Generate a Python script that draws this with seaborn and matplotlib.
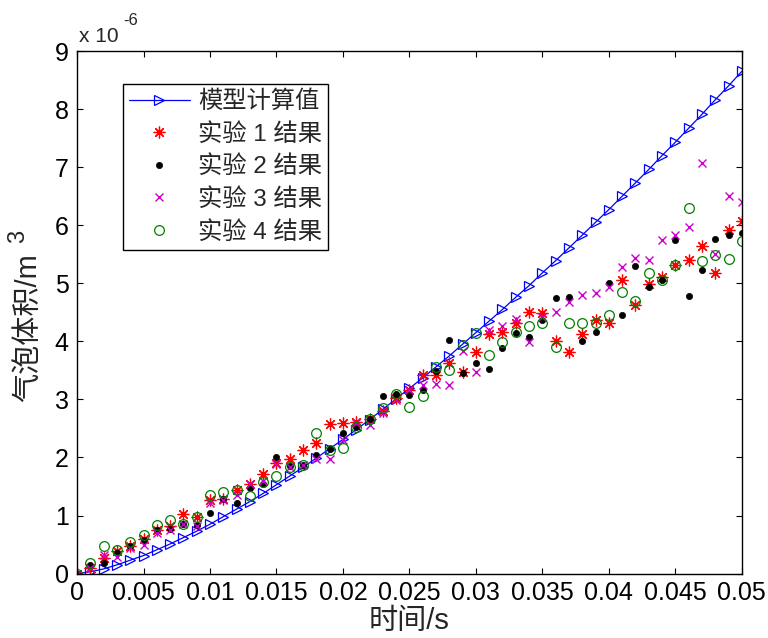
import numpy as np
import pandas as pd
import matplotlib
matplotlib.use('Agg')
import matplotlib.pyplot as plt
import seaborn as sns

# time in ms, volumes in units of 1e-6 m^3
t_ms = list(range(51))

model = [0.00, 0.03, 0.08, 0.15, 0.23, 0.31, 0.41, 0.51, 0.62, 0.73,
         0.85, 0.98, 1.11, 1.24, 1.38, 1.53, 1.68, 1.83, 1.99, 2.15,
         2.31, 2.48, 2.65, 2.83, 3.01, 3.19, 3.37, 3.56, 3.75, 3.95,
         4.15, 4.35, 4.55, 4.76, 4.96, 5.18, 5.39, 5.61, 5.83, 6.05,
         6.27, 6.50, 6.73, 6.96, 7.20, 7.43, 7.67, 7.91, 8.16, 8.40, 8.65]

exp1 = [0.00, 0.10, 0.27, 0.39, 0.47, 0.60, 0.75, 0.82, 1.02, 0.98,
        1.26, 1.29, 1.44, 1.54, 1.71, 1.90, 1.98, 2.13, 2.25, 2.58,
        2.60, 2.61, 2.66, 2.80, 3.03, 3.16, 3.42, 3.42, 3.62, 3.47,
        3.82, 4.12, 4.16, 4.32, 4.51, 4.49, 4.01, 3.82, 4.12, 4.37,
        4.32, 5.05, 4.62, 4.98, 5.11, 5.31, 5.40, 5.65, 5.18, 5.91, 6.08]

exp2 = [0.00, 0.15, 0.19, 0.35, 0.47, 0.58, 0.75, 0.77, 0.86, 0.83,
        1.05, 1.28, 1.21, 1.48, 1.54, 2.01, 1.86, 1.87, 2.04, 2.15,
        2.42, 2.52, 2.67, 3.05, 3.10, 3.07, 3.17, 3.49, 4.03, 3.46,
        3.63, 3.53, 3.88, 4.14, 4.07, 4.36, 4.74, 4.76, 4.01, 4.16,
        5.01, 4.45, 5.29, 4.94, 5.06, 5.74, 4.78, 5.22, 5.77, 5.83, 5.86]

exp3 = [0.00, 0.10, 0.32, 0.28, 0.44, 0.49, 0.70, 0.75, 0.86, 0.82,
        1.22, 1.27, 1.35, 1.54, 1.60, 1.88, 1.84, 1.87, 1.98, 1.97,
        2.30, 2.60, 2.56, 2.76, 2.99, 3.16, 3.24, 3.26, 3.24, 3.83,
        3.47, 4.20, 4.26, 4.39, 3.99, 4.42, 4.51, 4.68, 4.79, 4.83,
        4.94, 5.28, 5.44, 5.40, 5.74, 5.84, 5.97, 7.07, 5.51, 6.50, 6.40]

exp4 = [0.00, 0.19, 0.48, 0.40, 0.55, 0.66, 0.83, 0.93, 0.86, 0.98,
        1.35, 1.40, 1.44, 1.33, 1.58, 1.68, 1.84, 1.87, 2.42, 2.13,
        2.16, 2.52, 2.67, 2.86, 3.09, 2.87, 3.06, 3.56, 3.50, 3.93,
        4.14, 3.77, 3.99, 4.16, 4.26, 4.32, 3.90, 4.32, 4.32, 4.32,
        4.45, 4.85, 4.69, 5.17, 5.05, 5.31, 6.30, 5.38, 5.48, 5.41, 5.72]

labels = ['模型计算值', '实验 1 结果', '实验 2 结果', '实验 3 结果', '实验 4 结果']
xtick_labels = ['0', '0.005', '0.01', '0.015', '0.02', '0.025',
                '0.03', '0.035', '0.04', '0.045', '0.05']

sns.set_style('white')
plt.rcParams['font.family'] = ['Liberation Sans', 'Noto Sans CJK SC']
plt.rcParams['axes.unicode_minus'] = False

df = pd.DataFrame({'t': np.array(t_ms) / 1000.0, 'model': model,
                   'exp1': exp1, 'exp2': exp2, 'exp3': exp3, 'exp4': exp4})

fig = plt.figure(figsize=(7.68, 6.38), dpi=100)
ax = fig.add_axes([0.1003, 0.101, 0.8656, 0.819])

sns.lineplot(data=df, x='t', y='model', ax=ax, color='blue', linewidth=0.9,
             marker='>', markersize=7, markerfacecolor='none',
             markeredgecolor='blue', markeredgewidth=0.9, label=labels[0])
sns.lineplot(data=df, x='t', y='exp1', ax=ax, color='red', linestyle='none',
             marker=(8, 2, 0), markersize=8.5, markeredgecolor='red',
             markeredgewidth=0.9, label=labels[1])
sns.lineplot(data=df, x='t', y='exp2', ax=ax, color='black', linestyle='none',
             marker='o', markersize=4.5, markeredgecolor='black',
             markeredgewidth=0.5, label=labels[2])
sns.lineplot(data=df, x='t', y='exp3', ax=ax, color='#cc00cc', linestyle='none',
             marker='x', markersize=5.5, markeredgecolor='#cc00cc',
             markeredgewidth=1.0, label=labels[3])
sns.lineplot(data=df, x='t', y='exp4', ax=ax, color='#008000', linestyle='none',
             marker='o', markersize=7, markerfacecolor='none',
             markeredgecolor='#008000', markeredgewidth=0.9, label=labels[4])

ax.set_xlim(0, 0.05)
ax.set_ylim(0, 9)
ax.set_xticks(np.linspace(0, 0.05, 11))
ax.set_xticklabels(xtick_labels)
ax.set_yticks(range(10))
ax.tick_params(direction='in', length=4, width=0.8, top=True, right=True,
               bottom=True, left=True, labelsize=18, colors='black')
ax.tick_params(axis='x', pad=5)
ax.tick_params(axis='y', pad=6)
for s in ax.spines.values():
    s.set_visible(True)
    s.set_color('black')
    s.set_linewidth(1.0)

ax.set_xlabel('时间/s', fontsize=21, labelpad=2)
ax.set_ylabel('气泡体积/m', fontsize=21)
ax.yaxis.set_label_coords(-0.053, 0.47)
ax.text(-0.088, 0.646, '3', transform=ax.transAxes, rotation=90,
        fontsize=17, ha='center', va='center')

# exponent label like MATLAB
fig.text(0.103, 0.934, 'x 10', fontsize=15)
fig.text(0.160, 0.961, '-6', fontsize=12)

leg = ax.legend(loc='upper left', bbox_to_anchor=(0.069, 0.936), borderaxespad=0,
                frameon=True, fancybox=False, edgecolor='black', framealpha=1,
                fontsize=17.5, handlelength=2.5, handletextpad=0.35,
                borderpad=0.25, labelspacing=0.4)
leg.get_frame().set_linewidth(1.0)

fig.savefig('out.png', dpi=100)
